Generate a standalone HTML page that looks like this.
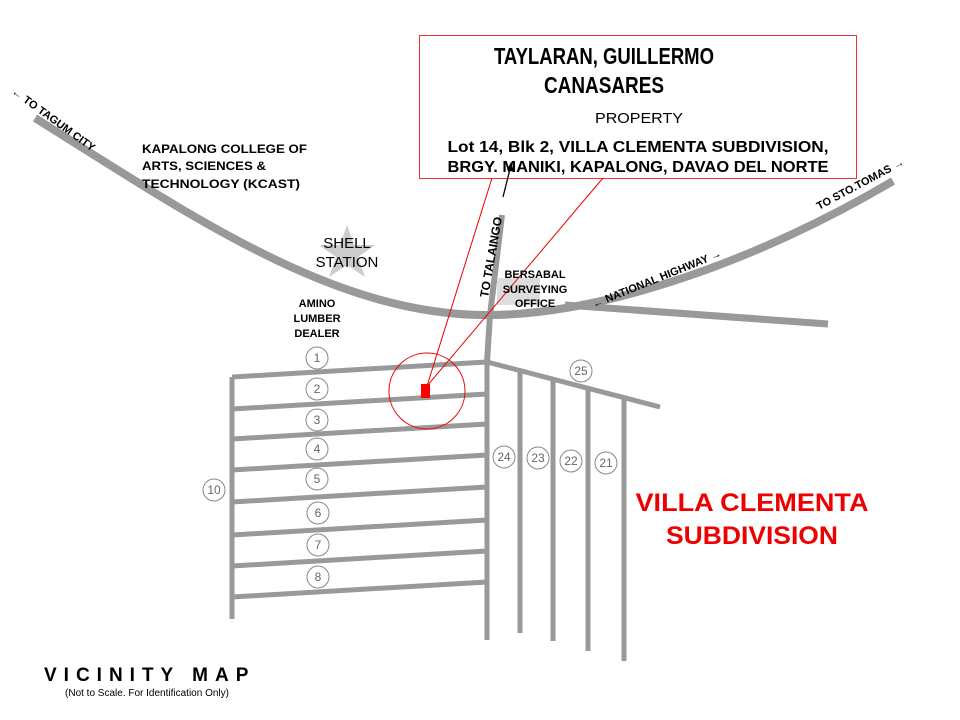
<!DOCTYPE html>
<html><head><meta charset="utf-8"><style>
html,body{margin:0;padding:0;background:#fff;}
svg{display:block;}
text{font-family:"Liberation Sans",Arial,sans-serif;}
</style></head><body>
<svg width="960" height="720" viewBox="0 0 960 720" xmlns="http://www.w3.org/2000/svg">
<g stroke="#999" fill="none" stroke-width="8">
<path d="M35,118 C190,215 330,312 480,315 C600,317 760,260 893,181"/>
<path d="M565,305 L828,324" stroke-width="7"/>
<path d="M502,215 L490,315 L487,362" stroke-width="6"/>
</g>
<polygon points="347,225 354,245 375,245 358,257 365,277 347,265 329,277 336,257 319,245 340,245" fill="#ccc"/>
<rect x="497" y="278" width="43" height="27" fill="#ddd"/>
<g stroke="#999" fill="none" stroke-width="5">
<path d="M232,377 L232,619"/>
<path d="M232,377 L487,362"/>
<path d="M232,409 L487,394"/>
<path d="M232,439 L487,424"/>
<path d="M232,470 L487,455"/>
<path d="M232,502 L487,487"/>
<path d="M232,535 L487,520"/>
<path d="M232,566 L487,551"/>
<path d="M232,597 L487,582"/>
<path d="M487,360 L487,640"/>
<path d="M487,362 L660,407"/>
<path d="M520,370 L520,633"/>
<path d="M553,379 L553,641"/>
<path d="M588,388 L588,651"/>
<path d="M624,398 L624,661"/>
</g>
<g fill="#fff" stroke="#888" stroke-width="1">
<circle cx="317" cy="358" r="11"/><circle cx="317" cy="389" r="11"/><circle cx="317" cy="420" r="11"/><circle cx="317" cy="449" r="11"/><circle cx="317" cy="479" r="11"/><circle cx="318" cy="513" r="11"/><circle cx="318" cy="545" r="11"/><circle cx="318" cy="577" r="11"/><circle cx="214" cy="490" r="11"/><circle cx="504" cy="457" r="11"/><circle cx="538" cy="458" r="11"/><circle cx="571" cy="461" r="11"/><circle cx="606" cy="463" r="11"/><circle cx="581" cy="371" r="11"/>
</g>
<g fill="#666" font-size="12" text-anchor="middle">
<text x="317" y="362">1</text><text x="317" y="393">2</text><text x="317" y="424">3</text><text x="317" y="453">4</text><text x="317" y="483">5</text><text x="318" y="517">6</text><text x="318" y="549">7</text><text x="318" y="581">8</text><text x="214" y="494">10</text><text x="504" y="461">24</text><text x="538" y="462">23</text><text x="571" y="465">22</text><text x="606" y="467">21</text><text x="581" y="375">25</text>
</g>
<rect x="419.5" y="35.5" width="437" height="143" fill="#fff" stroke="#e33" stroke-width="1"/>
<g stroke="#e00" stroke-width="1" fill="none">
<path d="M492,178 L427,386"/><path d="M603,178 L427,386"/>
<circle cx="427" cy="391" r="38"/>
</g>
<rect x="421" y="384" width="9" height="14" fill="#f00"/>
<path d="M503,197 L511,165" stroke="#000" stroke-width="1.3"/>
<polygon points="511,162 514,172 507,170" fill="#000"/>
<g fill="#000" text-anchor="middle">
<text x="604" y="64" font-size="23" font-weight="bold" textLength="220" lengthAdjust="spacingAndGlyphs">TAYLARAN, GUILLERMO</text>
<text x="604" y="93" font-size="23" font-weight="bold" textLength="120" lengthAdjust="spacingAndGlyphs">CANASARES</text>
<text x="639" y="123" font-size="15" textLength="88" lengthAdjust="spacingAndGlyphs">PROPERTY</text>
<text x="638" y="152" font-size="16" font-weight="bold" textLength="381" lengthAdjust="spacingAndGlyphs">Lot 14, Blk 2, VILLA CLEMENTA SUBDIVISION,</text>
<text x="638" y="172" font-size="16" font-weight="bold" textLength="381" lengthAdjust="spacingAndGlyphs">BRGY. MANIKI, KAPALONG, DAVAO DEL NORTE</text>
</g>
<g fill="#000" font-size="12" font-weight="bold">
<text x="142" y="153" textLength="165" lengthAdjust="spacingAndGlyphs">KAPALONG COLLEGE OF</text>
<text x="142" y="170" textLength="124" lengthAdjust="spacingAndGlyphs">ARTS, SCIENCES &amp;</text>
<text x="142" y="188" textLength="158" lengthAdjust="spacingAndGlyphs">TECHNOLOGY (KCAST)</text>
<text x="347" y="248" font-size="15" font-weight="normal" text-anchor="middle">SHELL</text>
<text x="347" y="267" font-size="15" font-weight="normal" text-anchor="middle">STATION</text>
<text x="317" y="307" font-size="11" text-anchor="middle">AMINO</text>
<text x="317" y="322" font-size="11" text-anchor="middle">LUMBER</text>
<text x="317" y="337" font-size="11" text-anchor="middle">DEALER</text>
<text x="535" y="278" font-size="11" text-anchor="middle">BERSABAL</text>
<text x="535" y="293" font-size="11" text-anchor="middle">SURVEYING</text>
<text x="535" y="307" font-size="11" text-anchor="middle">OFFICE</text>
<text transform="translate(11,93) rotate(36)" font-size="11">← TO TAGUM CITY</text>
<text transform="translate(488,298) rotate(-80)" font-size="12">TO  TALAINGO</text>
<text transform="translate(594,308) rotate(-22)" font-size="11">← NATIONAL HIGHWAY →</text>
<text transform="translate(819,210) rotate(-28)" font-size="11">TO STO.TOMAS →</text>
</g>
<g fill="#e00" font-size="25" font-weight="bold" text-anchor="middle">
<text x="752" y="511" textLength="233" lengthAdjust="spacingAndGlyphs">VILLA CLEMENTA</text>
<text x="752" y="544" textLength="172" lengthAdjust="spacingAndGlyphs">SUBDIVISION</text>
</g>
<text x="44" y="681" font-size="19" font-weight="bold" letter-spacing="7" fill="#000">VICINITY MAP</text>
<text x="147" y="696" font-size="10" text-anchor="middle" fill="#000">(Not to Scale. For Identification Only)</text>
</svg>
</body></html>
